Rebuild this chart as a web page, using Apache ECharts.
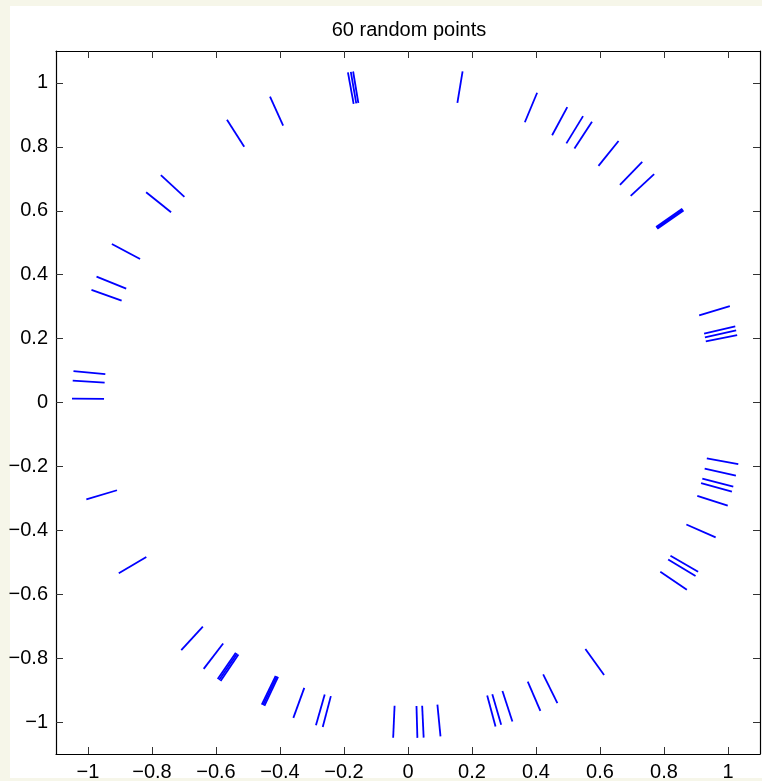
<!DOCTYPE html>
<html><head><meta charset="utf-8">
<script src="https://cdn.jsdelivr.net/npm/echarts@6/dist/echarts.min.js"></script>
<style>
html,body{margin:0;padding:0;background:#f6f6e9;width:762px;height:781px;overflow:hidden}
#paper{position:absolute;left:10px;top:6px;width:752px;height:772px;background:#fff}
#chart{position:absolute;left:0;top:0;width:762px;height:781px}
</style></head><body>
<div id="paper"></div><div id="chart"></div>
<script>
const titleText = '60 random points';
// angle (degrees) of each random point on the unit circle
const angleDeg = [
  11.6, 12.4, 13.1, 16.7, 34.9, 35.1, 35.3, 42.9, 45.8, 51.2,
  56.8, 58.6, 61.7, 67.4, 80.65, 99.4, 99.8, 100.3, 114.25, 122.6,
  137.35, 141.2, 151.8, 157.97, 160.4, 174.65, 176.26, 179.33, 196.8, 210.6,
  227.56, 232.55, 235.5, 235.8, 236.1, 244.2, 244.45, 244.7, 250.05, 254.1,
  255.3, 267.47, 271.6, 272.67, 275.55, 285.1, 286.1, 288.1, 293.2, 296.4,
  305.7, 326.1, 328.85, 329.7, 336.3, 342.1, 344.6, 345.5, 347.4, 349.4
];
const innerRadius = 0.95;
const outerRadius = 1.05;
const axisMin = -1.1, axisMax = 1.1;
const tickValues = [-1, -0.8, -0.6, -0.4, -0.2, 0, 0.2, 0.4, 0.6, 0.8, 1];

const segData = angleDeg.map(function (a) {
  const t = a * Math.PI / 180;
  const c = Math.cos(t), s = Math.sin(t);
  return { coords: [[innerRadius * c, innerRadius * s], [outerRadius * c, outerRadius * s]] };
});

const fmt = function (v) {
  const r = Math.round(v * 10) / 10;
  return r === 0 ? '0' : String(r).replace('-', '\u2212');
};
const font = 'Liberation Sans, Arial, Helvetica, sans-serif';
function mkAxis(pos, showLabel) {
  return {
    type: 'value', min: axisMin, max: axisMax, position: pos,
    axisLine: { show: true, onZero: false, lineStyle: { color: '#000', width: 1.2 } },
    axisTick: { show: true, inside: true, length: 7, customValues: tickValues, lineStyle: { color: '#333', width: 1 } },
    axisLabel: { show: showLabel, customValues: tickValues, formatter: fmt, fontSize: 20, color: '#000', margin: 8, fontFamily: font },
    splitLine: { show: false }
  };
}
const chart = echarts.init(document.getElementById('chart'), null, { renderer: 'canvas' });
chart.setOption({
  animation: false,
  backgroundColor: 'transparent',
  title: { text: titleText, left: 404, top: 15, textAlign: 'center',
    textStyle: { fontSize: 20, fontWeight: 'normal', color: '#000', fontFamily: font } },
  grid: { left: 56, top: 51, width: 704, height: 703, outerBoundsMode: 'none', containLabel: false },
  xAxis: [mkAxis('bottom', true), mkAxis('top', false)],
  yAxis: [mkAxis('left', true), mkAxis('right', false)],
  series: [{
    type: 'lines', coordinateSystem: 'cartesian2d', xAxisIndex: 0, yAxisIndex: 0,
    lineStyle: { color: '#0000ff', width: 1.8, opacity: 1 },
    data: segData
  }]
});
</script></body></html>
